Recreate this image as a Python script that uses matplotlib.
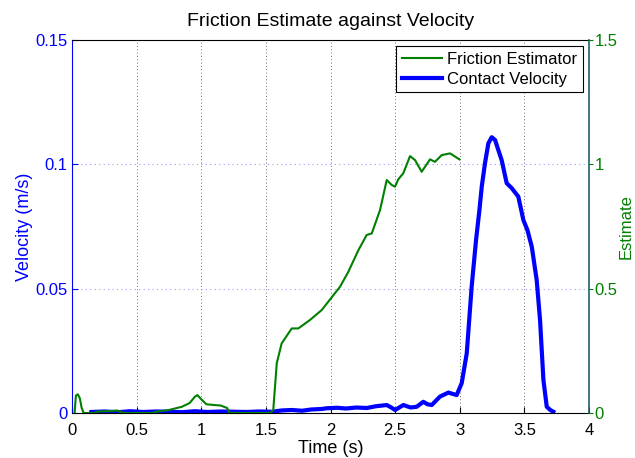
import matplotlib
matplotlib.use('Agg')
import matplotlib.pyplot as plt

plt.rcParams['font.family'] = ['Liberation Sans', 'DejaVu Sans']

# friction estimator (right axis)
est_t = [0.02, 0.03, 0.045, 0.06, 0.075, 0.09, 0.17, 0.2, 0.3, 0.35, 0.38, 0.40,
         0.62, 0.66, 0.75, 0.85, 0.91, 0.95, 0.97, 1.0, 1.04, 1.1, 1.15, 1.2, 1.22,
         1.53, 1.557, 1.584, 1.622, 1.70, 1.751, 1.841, 1.932, 2.074, 2.138, 2.216,
         2.28, 2.319, 2.383, 2.435, 2.473, 2.499, 2.525, 2.563, 2.615, 2.654, 2.705,
         2.77, 2.808, 2.86, 2.925, 2.997]
est_v = [0.0, 0.07, 0.075, 0.06, 0.02, 0.0, 0.0, 0.006, 0.008, 0.01, 0.004, 0.0,
         0.0, 0.006, 0.012, 0.025, 0.04, 0.065, 0.072, 0.055, 0.035, 0.032, 0.03, 0.02, 0.0,
         0.0, 0.012, 0.2, 0.28, 0.34, 0.34, 0.374, 0.414, 0.508, 0.568, 0.655,
         0.716, 0.722, 0.816, 0.937, 0.917, 0.91, 0.94, 0.964, 1.033, 1.017, 0.97,
         1.02, 1.01, 1.037, 1.044, 1.02]

# contact velocity (left axis)
vel_t = [0.15, 0.25, 0.35, 0.45, 0.55, 0.65, 0.75, 0.85, 0.95, 1.05, 1.15, 1.25,
         1.35, 1.45, 1.55, 1.62, 1.70, 1.78, 1.85, 1.93, 1.97, 2.05, 2.12, 2.20,
         2.28, 2.35, 2.435, 2.47, 2.50, 2.563, 2.62, 2.667, 2.718, 2.75, 2.783,
         2.847, 2.912, 2.976, 3.015, 3.054, 3.092, 3.126, 3.152, 3.17, 3.195, 3.221,
         3.247, 3.273, 3.298, 3.324, 3.363, 3.402, 3.453, 3.492, 3.523, 3.557,
         3.595, 3.621, 3.647, 3.673, 3.70, 3.724]
vel_v = [0.0004, 0.0006, 0.0003, 0.0007, 0.0004, 0.0006, 0.0005, 0.0003, 0.0007,
         0.0004, 0.0006, 0.0005, 0.0004, 0.0006, 0.0005, 0.0010, 0.0012, 0.0009,
         0.0014, 0.0016, 0.0019, 0.0021, 0.0018, 0.0022, 0.0020, 0.0027, 0.0032,
         0.0022, 0.0012, 0.0032, 0.0022, 0.0025, 0.0045, 0.0035, 0.0032, 0.0066,
         0.0082, 0.0072, 0.012, 0.024, 0.0508, 0.0696, 0.0816, 0.091, 0.1004, 0.1084,
         0.1109, 0.1098, 0.1058, 0.1017, 0.0924, 0.0904, 0.087, 0.0776, 0.0736,
         0.0669, 0.0535, 0.0374, 0.0133, 0.0025, 0.0012, 0.0005]

x_ticks = [0, 0.5, 1, 1.5, 2, 2.5, 3, 3.5, 4]
x_labels = ['0', '0.5', '1', '1.5', '2', '2.5', '3', '3.5', '4']
vel_ticks = [0, 0.05, 0.1, 0.15]
vel_labels = ['0', '0.05', '0.1', '0.15']
est_ticks = [0, 0.5, 1, 1.5]
est_labels = ['0', '0.5', '1', '1.5']

blue = '#0000ff'
green = '#008000'

fig = plt.figure(figsize=(6.35, 4.58), dpi=100)
ax = fig.add_axes([0.1134, 0.0983, 0.8142, 0.8144])
ax2 = ax.twinx()

l1, = ax.plot(vel_t, vel_v, color=blue, lw=3, solid_joinstyle='round')
l2, = ax2.plot(est_t, est_v, color=green, lw=1.5)

ax.set_xlim(0, 4)
ax.set_ylim(0, 0.15)
ax2.set_ylim(0, 1.5)

ax.set_xticks(x_ticks)
ax.set_xticklabels(x_labels)
ax.set_yticks(vel_ticks)
ax.set_yticklabels(vel_labels)
ax2.set_yticks(est_ticks)
ax2.set_yticklabels(est_labels)

# grid: vertical black dotted, horizontal light blue dotted
for xv in x_ticks[1:-1]:
    ax.axvline(xv, color='#444444', lw=0.6, ls=(0, (1, 3)), zorder=0)
for yv in vel_ticks[1:-1]:
    ax.axhline(yv, color='#9a9aff', lw=0.8, ls=(0, (1, 3)), zorder=0)

ax.tick_params(axis='x', direction='in', length=4, labelsize=12, colors='black', pad=7)
ax.tick_params(axis='y', direction='in', length=4, labelsize=12, colors=blue, pad=3)
ax2.tick_params(axis='y', direction='out', length=3, labelsize=12, colors=green, pad=1)

ax.spines['left'].set_color(blue)
ax.spines['right'].set_visible(False)
ax2.spines['left'].set_visible(False)
ax2.spines['right'].set_color('#1f5f6f')
ax2.spines['right'].set_linewidth(1.2)
for s in ['top', 'bottom']:
    ax.spines[s].set_color('black')
    ax2.spines[s].set_visible(False)

ax.set_xlabel('Time (s)', fontsize=13, labelpad=2)
ax.set_ylabel('Velocity (m/s)', fontsize=13, color=blue, labelpad=2)
ax2.set_ylabel('Estimate', fontsize=12, color=green, labelpad=1)
ax.set_title('Friction Estimate against Velocity', fontsize=14, pad=10)

leg = ax2.legend([l2, l1], ['Friction Estimator', 'Contact Velocity'],
                 loc='upper right', fontsize=12, fancybox=False, framealpha=1,
                 edgecolor='black', borderpad=0.35, labelspacing=0.3,
                 handlelength=2.4, handletextpad=0.3, borderaxespad=0.35)
leg.get_frame().set_linewidth(0.8)

fig.savefig('out.png', dpi=100)
